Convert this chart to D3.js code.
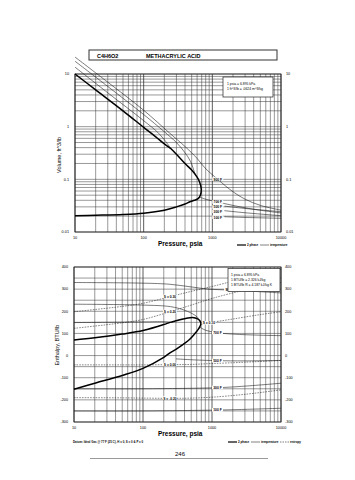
<!DOCTYPE html>
<html><head><meta charset="utf-8">
<script src="https://cdn.jsdelivr.net/npm/d3@7"></script>
<style>body{margin:0;background:#fff}svg{display:block}text{font-family:"Liberation Sans",Arial,sans-serif}</style>
</head><body><svg id="c" width="355" height="480"></svg>
<script>
// ---------- data ----------
const pressureTicks = [10, 100, 1000, 10000];
const volumeTicks = [0.01, 0.1, 1, 10];
const enthalpyTicks = [-300, -200, -100, 0, 100, 200, 300, 400];

// Volume chart (P psia, V ft3/lb)
const domeVP = [10,20,50,100,150,200,250,300,400,500,600,650,690,670,620,550,470,400,300,200,100,50,20,10];
const domeVV = [10,5.0,2.0,0.97,0.64,0.47,0.38,0.30,0.2,0.15,0.11,0.09,0.065,0.05,0.043,0.04,0.0376,0.034,0.03,0.026,0.0228,0.0215,0.0208,0.0204];
const v900P = [10,30,100,240,400,600,780,1200,2000,3000,5000,10000];
const v900V = [21,7,2.05,0.75,0.42,0.25,0.165,0.1,0.058,0.042,0.032,0.026];
const v700P = [10,30,100,200,300,400,480,560];
const v700V = [17.5,5.8,1.7,0.8,0.5,0.32,0.22,0.125];
const v500P = [10,30,100,160,210,250];
const v500V = [13.5,4.4,1.3,0.78,0.52,0.38];
const v700LP = [650,800,1200,2000,4000,10000];
const v700LV = [0.046,0.042,0.037,0.032,0.027,0.023];
const v500LP = [1500,3000,10000];
const v500LV = [0.031,0.028,0.0243];
const v300LP = [1500,3000,10000];
const v300LV = [0.0254,0.0232,0.0204];
const v100LP = [1500,3000,10000];
const v100LV = [0.0195,0.0189,0.0182];
const volLabels = ["900 F","700 F","500 F","300 F","100 F"];
const volLabelV = [0.1,0.037,0.0295,0.0245,0.019];

// Enthalpy chart (P psia, H BTU/lb)
const domeHP = [10,20,50,100,200,246,300,450,550,620,670,690,670,620,550,480,400,300,246,200,100,50,20,10];
const domeHH = [70,80,97,113,140,150,157,170,171,166,156,145,132,115,95,75,55,28,12,-8,-58,-90,-125,-152];
const h900P = [10,100,246,500,900,1800,4000,10000];
const h900H = [330,327,322,310,300,296,290,283];
const h700P = [10,100,250,400,560,640];
const h700H = [232,228,221,205,183,168];
const h500P = [10,100,200,246];
const h500H = [149,152,153,151];
const h700LP = [670,800,1200,2000,5000,10000];
const h700LH = [128,115,103,97,92,90];
const h500LP = [300,600,1200,3000,10000];
const h500LH = [-15,-20,-23,-24,-22];
const h300LP = [10,100,1200,3000,10000];
const h300LH = [-150,-150,-145,-138,-125];
const h100LP = [10,100,1200,3000,10000];
const h100LH = [-250,-250,-246,-243,-238];
const sP = [10,50,100,246,500,1000,3000,10000];
const s030H = [198,222,236,266,290,312,350,390];
const s020H = [123,148,163,198,228,258,296,330];
const s000H = [-42,-42,-42,-41,-40,-36,-30,-22];
const sm020H = [-190,-191,-192,-193,-192,-188,-175,-155];
const s010P = [700,1000,2000,5000,10000];
const s010H = [140,150,165,185,198];
const entLabels = ["900 F","700 F","500 F","300 F","100 F"];
const entLabelP = [1800,1200,1200,1200,1200];
const entLabelH = [296,103,-23,-145,-246];
const sLabels = ["S = 0.30","S = 0.20","S = 0.10","S = 0.00","S = -0.20"];
const sLabelP = [246,246,900,246,246];
const sLabelH = [266,198,147,-41,-193];

// ---------- drawing ----------
const svg = d3.select("#c");
const X0 = 74, X1 = 281;

// title box
svg.append("rect").attr("x",89).attr("y",50).attr("width",188).attr("height",10)
  .attr("fill","#fff").attr("stroke","#333").attr("stroke-width",1);
svg.append("text").attr("x",97).attr("y",57.5).attr("font-size",5.5).attr("font-weight","bold").text("C4H6O2");
svg.append("text").attr("x",146).attr("y",57.5).attr("font-size",5.5).attr("font-weight","bold").text("METHACRYLIC ACID");

function logGrid(g, x, y, yTicksMinor) {
  const xs = [];
  for (let d = 10; d < 10000; d *= 10) for (let k = 1; k < 10; k++) xs.push(d*k);
  xs.push(10000);
  g.selectAll(".vx").data(xs).join("line")
    .attr("x1", d => x(d)).attr("x2", d => x(d))
    .attr("y1", y.range()[0]).attr("y2", y.range()[1])
    .attr("stroke", "#333").attr("stroke-width", d => [10,100,1000,10000].includes(d) ? 0.8 : 0.5);
  g.selectAll(".hy").data(yTicksMinor).join("line")
    .attr("x1", x.range()[0]).attr("x2", x.range()[1])
    .attr("y1", d => y(d)).attr("y2", d => y(d))
    .attr("stroke", "#333").attr("stroke-width", 0.5);
}

function line(x, y, P, V) {
  return d3.line().x(d => x(d[0])).y(d => y(d[1])).curve(d3.curveCatmullRom.alpha(0.5))(P.map((p,i) => [p, V[i]]));
}

// ---- top chart ----
const xT = d3.scaleLog().domain([10,10000]).range([X0+1, X1]);
const yT = d3.scaleLog().domain([0.01,10]).range([232, 74]);
const gT = svg.append("g");
const yMinorT = [];
for (let d = 0.01; d < 10; d *= 10) for (let k = 1; k < 10; k++) yMinorT.push(+(d*k).toPrecision(3));
yMinorT.push(10);
logGrid(gT, xT, yT, yMinorT);
gT.append("rect").attr("x",X0+1).attr("y",74).attr("width",X1-X0-1).attr("height",158).attr("fill","none").attr("stroke","#222").attr("stroke-width",0.8);

const thin = (g, d) => g.append("path").attr("d", d).attr("fill","none").attr("stroke","#111").attr("stroke-width",0.55);
thin(gT, line(xT,yT,v900P,v900V));
thin(gT, line(xT,yT,v700P,v700V));
thin(gT, line(xT,yT,v500P,v500V));
thin(gT, line(xT,yT,v700LP,v700LV));
thin(gT, line(xT,yT,v500LP,v500LV));
thin(gT, line(xT,yT,v300LP,v300LV));
thin(gT, line(xT,yT,v100LP,v100LV));
gT.append("path").attr("d", line(xT,yT,domeVP,domeVV)).attr("fill","none").attr("stroke","#000").attr("stroke-width",1.5);

function tag(g, px, py, t, w) {
  g.append("rect").attr("x",px-w/2).attr("y",py-2).attr("width",w).attr("height",3.6).attr("fill","#fff");
  g.append("text").attr("x",px).attr("y",py+1.2).attr("font-size",3.3).attr("font-weight","bold").attr("text-anchor","middle").text(t);
}
volLabels.forEach((t,i) => tag(gT, xT(1200), yT(volLabelV[i]), t, 11));

// info box top
gT.append("rect").attr("x",223).attr("y",77).attr("width",50).attr("height",20).attr("fill","#fff").attr("stroke","#222").attr("stroke-width",0.7);
gT.append("text").attr("x",227).attr("y",85).attr("font-size",3.4).text("1 psia = 6.895 kPa");
gT.append("text").attr("x",227).attr("y",90).attr("font-size",3.4).text("1 ft^3/lb = .0624 m^3/kg");

// axes labels top
volumeTicks.forEach(v => {
  gT.append("text").attr("x",69).attr("y",yT(v)+1.3).attr("font-size",3.8).attr("text-anchor","end").text(v);
  gT.append("text").attr("x",286).attr("y",yT(v)+1.3).attr("font-size",3.8).text(v);
});
pressureTicks.forEach(p => {
  gT.append("text").attr("x",xT(p)).attr("y",238.5).attr("font-size",3.8).attr("text-anchor","middle").text(p);
});
gT.append("text").attr("transform","translate(61,155) rotate(-90)").attr("font-size",5.5).attr("text-anchor","middle").text("Volume, ft^3/lb");
gT.append("text").attr("x",158).attr("y",246).attr("font-size",6.5).attr("font-weight","bold").text("Pressure,  psia");

function legend(g, x, y, withEntropy) {
  g.append("line").attr("x1",x).attr("x2",x+9).attr("y1",y).attr("y2",y).attr("stroke","#000").attr("stroke-width",1.2);
  g.append("text").attr("x",x+10).attr("y",y+1).attr("font-size",3).attr("font-weight","bold").text("2 phase");
  g.append("line").attr("x1",x+23).attr("x2",x+32).attr("y1",y).attr("y2",y).attr("stroke","#000").attr("stroke-width",0.5);
  g.append("text").attr("x",x+33).attr("y",y+1).attr("font-size",3).attr("font-weight","bold").text("temperature");
  if (withEntropy) {
    g.append("line").attr("x1",x+52).attr("x2",x+61).attr("y1",y).attr("y2",y).attr("stroke","#000").attr("stroke-width",0.5).attr("stroke-dasharray","1.5,1");
    g.append("text").attr("x",x+62).attr("y",y+1).attr("font-size",3).attr("font-weight","bold").text("entropy");
  }
}
legend(gT, 237, 245, false);

// ---- bottom chart ----
const xB = d3.scaleLog().domain([10,10000]).range([X0, X1]);
const yB = d3.scaleLinear().domain([-300,400]).range([422, 267]);
const gB = svg.append("g");
logGrid(gB, xB, yB, d3.range(-300, 401, 50));
gB.append("rect").attr("x",X0).attr("y",267).attr("width",X1-X0).attr("height",155).attr("fill","none").attr("stroke","#222").attr("stroke-width",0.8);

const dashed = (g, d) => g.append("path").attr("d", d).attr("fill","none").attr("stroke","#111").attr("stroke-width",0.5).attr("stroke-dasharray","1.6,1.1");
dashed(gB, line(xB,yB,sP,s030H));
dashed(gB, line(xB,yB,sP,s020H));
dashed(gB, line(xB,yB,s010P,s010H));
dashed(gB, line(xB,yB,sP,s000H));
dashed(gB, line(xB,yB,sP,sm020H));
thin(gB, line(xB,yB,h900P,h900H));
thin(gB, line(xB,yB,h700P,h700H));
thin(gB, line(xB,yB,h500P,h500H));
thin(gB, line(xB,yB,h700LP,h700LH));
thin(gB, line(xB,yB,h500LP,h500LH));
thin(gB, line(xB,yB,h300LP,h300LH));
thin(gB, line(xB,yB,h100LP,h100LH));
gB.append("path").attr("d", line(xB,yB,domeHP,domeHH)).attr("fill","none").attr("stroke","#000").attr("stroke-width",1.5);

entLabels.forEach((t,i) => tag(gB, xB(entLabelP[i]), yB(entLabelH[i]), t, 11));
sLabels.forEach((t,i) => tag(gB, xB(sLabelP[i]), yB(sLabelH[i]), t, 14));

gB.append("rect").attr("x",228).attr("y",268.5).attr("width",52).attr("height",23).attr("fill","#fff").attr("stroke","#222").attr("stroke-width",0.7);
gB.append("text").attr("x",231).attr("y",276).attr("font-size",3.4).text("1 psia = 6.895 kPa");
gB.append("text").attr("x",231).attr("y",281).attr("font-size",3.4).text("1 BTU/lb = 2.326 kJ/kg");
gB.append("text").attr("x",231).attr("y",286).attr("font-size",3.4).text("1 BTU/lb R = 4.187 kJ/kg K");

enthalpyTicks.forEach(v => {
  gB.append("text").attr("x",68).attr("y",yB(v)+1.3).attr("font-size",3.8).attr("text-anchor","end").text(v);
  gB.append("text").attr("x",285).attr("y",yB(v)+1.3).attr("font-size",3.8).text(v);
});
pressureTicks.forEach(p => {
  gB.append("text").attr("x",xB(p)).attr("y",428.5).attr("font-size",3.8).attr("text-anchor","middle").text(p);
});
gB.append("text").attr("transform","translate(59,345) rotate(-90)").attr("font-size",5.5).attr("text-anchor","middle").text("Enthalpy, BTU/lb");
gB.append("text").attr("x",158).attr("y",436).attr("font-size",6.5).attr("font-weight","bold").text("Pressure,  psia");
gB.append("text").attr("x",73).attr("y",443).attr("font-size",2.9).attr("font-weight","bold").text("Datum: Ideal Gas @ 77 F (25 C), H = 0, S = 0 & P = 0");
legend(gB, 228, 442, true);

// page number
svg.append("text").attr("x",180).attr("y",456).attr("font-size",6).attr("text-anchor","middle").attr("font-family","Liberation Serif").text("246");
svg.append("line").attr("x1",90).attr("x2",268).attr("y1",458.5).attr("y2",458.5).attr("stroke","#555").attr("stroke-width",0.6);
</script></body></html>
